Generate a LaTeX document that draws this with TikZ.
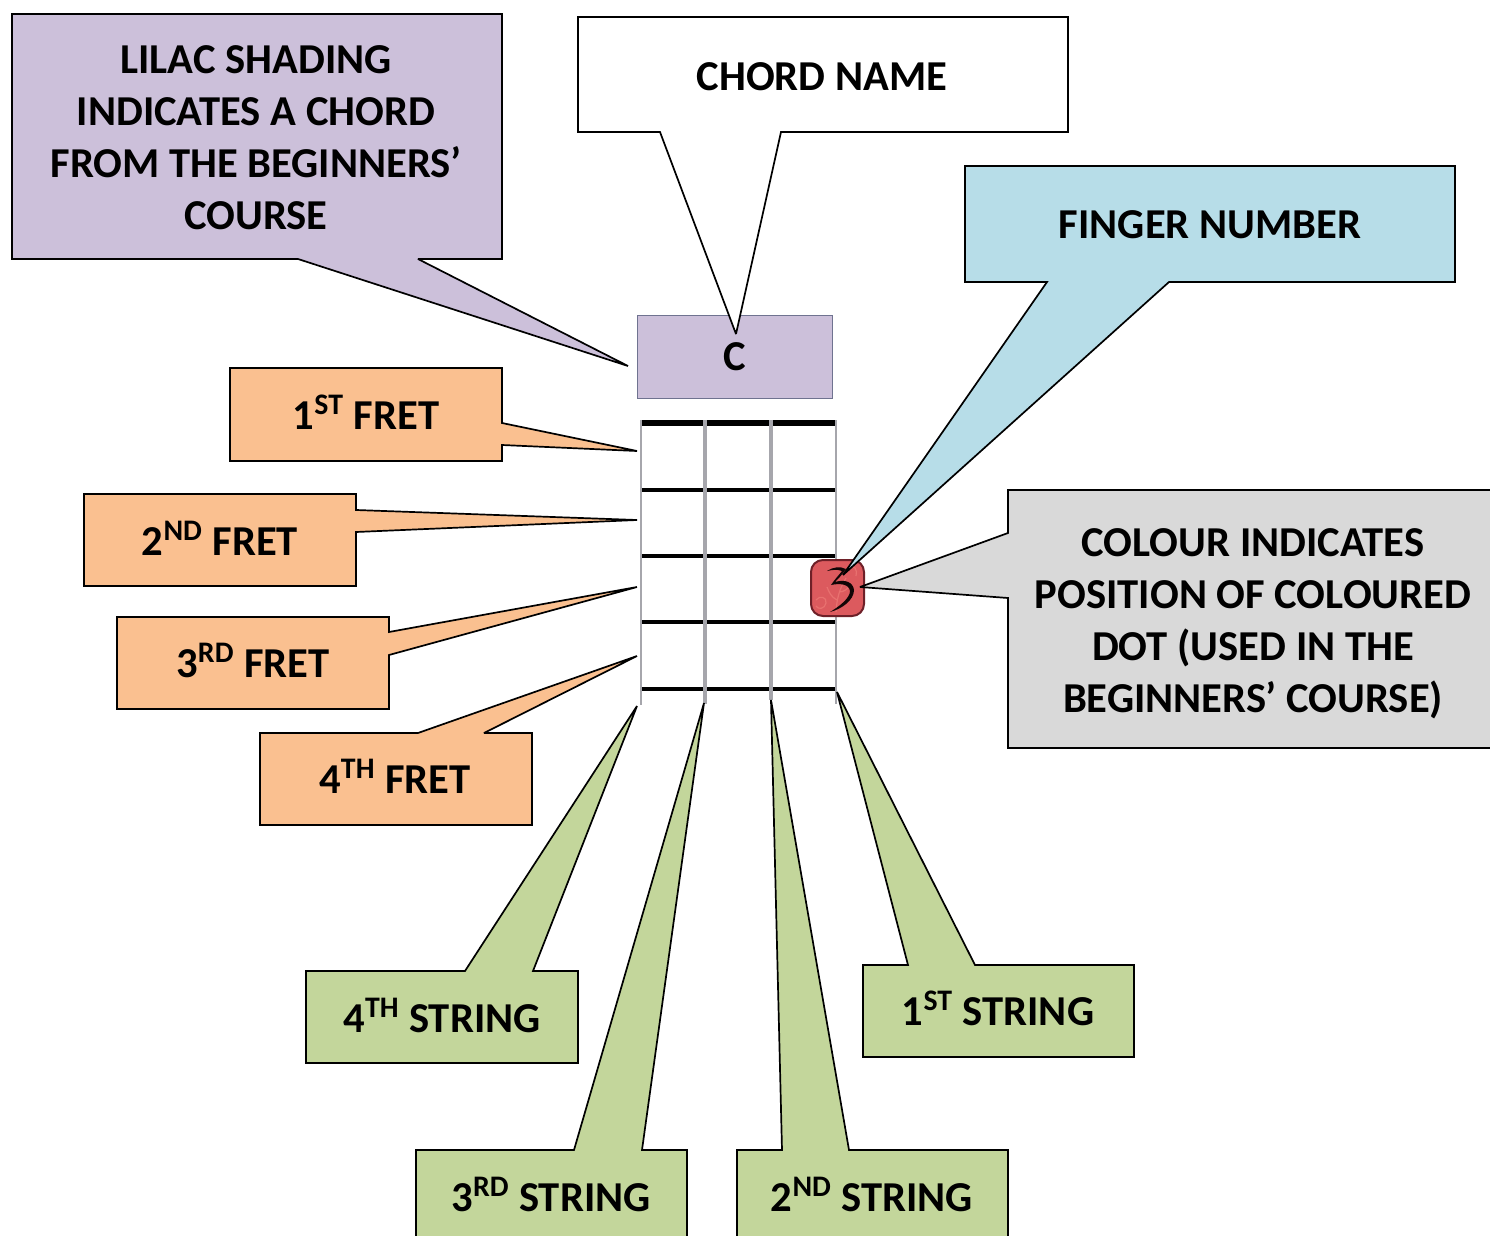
\documentclass[tikz,border=0pt]{standalone}
\usepackage{fontspec}
\setmainfont{Carlito}
\definecolor{lilac}{HTML}{CCC0DA}
\definecolor{peach}{HTML}{FAC090}
\definecolor{sky}{HTML}{B7DDE8}
\definecolor{silver}{HTML}{D9D9D9}
\definecolor{leaf}{HTML}{C3D69B}
\definecolor{wire}{HTML}{A6A6AC}
\definecolor{dotred}{HTML}{DC5A5E}
\definecolor{dotpale}{HTML}{E8716F}
\definecolor{dotedge}{HTML}{6E2028}
\definecolor{boxedge}{HTML}{6F7390}
\tikzset{
    callout/.style={draw=black, line width=0.85pt, line join=miter, miter limit=3},
    lbl/.style={font=\fontsize{21.3pt}{26pt}\selectfont\bfseries, align=center, inner sep=0pt},
}
\begin{document}
\begin{tikzpicture}[x=0.5pt, y=-0.5pt]
    \useasboundingbox (0,0) rectangle (1490,1236);
    \clip (0,0) rectangle (1490,1236);
    \draw[fill=lilac, draw=boxedge, line width=0.5pt] (637,315) rectangle (832,398);
    \foreach \y/\w in {423/3pt, 490/2.3pt, 556/2.3pt, 622/2.3pt, 689/2.3pt}
        \draw[black, line width=\w] (640,\y)--(835,\y);
    \foreach \x/\w/\e in {641/1.4pt/705, 705/2.4pt/704, 771/1.7pt/700, 836/1pt/704}
        \draw[wire, line width=\w] (\x,420)--(\x,\e);
    \draw[fill=dotred, draw=dotedge, line width=1pt, rounded corners=6pt] (811,560) rectangle (864,616);
    \begin{scope}[dotpale, line width=0.6pt]
        \draw (836,612)..controls (837,598) and (839,590) .. (846,578);
        \draw (837,600)..controls (831,597) and (829,592) .. (827,587);
        \draw (839,592)..controls (844,592) and (848,589) .. (851,584);
        \draw (816,600)..controls (820,595) and (827,597) .. (826,603)..controls (825,609) and (818,610) .. (816,606);
        \draw (848,566)..controls (854,564) and (858,570) .. (856,576);
    \end{scope}
    \fill[black!85!dotedge] (827,571)..controls (833,567) and (840,566) .. (846,569)..controls (842,575) and (838,579) .. (835,582)
        ..controls (845,579) and (853,582) .. (854,590)..controls (854,600) and (842,609) .. (830,612)
        ..controls (840,606) and (850,598) .. (850,591)..controls (849,584) and (840,583) .. (831,585)
        ..controls (835,579) and (839,575) .. (842,571)..controls (837,569) and (832,570) .. (827,571)--cycle;
    \draw[callout, fill=lilac] (12,14)--(502,14)--(502,259)--(418,259)--(628,366)--(298,259)--(12,259)--cycle;
    \draw[callout, fill=white] (578,17)--(1068,17)--(1068,132)--(781,132)--(736,334)--(660,132)--(578,132)--cycle;
    \draw[callout, fill=sky] (965,166)--(1455,166)--(1455,282)--(1169,282)--(843,575)--(1047,282)--(965,282)--cycle;
    \draw[callout, fill=silver] (1008,490)--(1500,490)--(1500,748)--(1008,748)--(1008,598)--(860,587)--(1008,533)--cycle;
    \draw[callout, fill=peach] (230,368)--(502,368)--(502,423)--(637,451)--(502,445)--(502,461)--(230,461)--cycle;
    \draw[callout, fill=peach] (84,494)--(356,494)--(356,510)--(637,520)--(356,532)--(356,586)--(84,586)--cycle;
    \draw[callout, fill=peach] (117,617)--(389,617)--(389,632)--(637,587)--(389,655)--(389,709)--(117,709)--cycle;
    \draw[callout, fill=peach] (260,733)--(418,733)--(637,656)--(484,733)--(532,733)--(532,825)--(260,825)--cycle;
    \draw[callout, fill=leaf] (306,971)--(465,971)--(637,706)--(533,971)--(578,971)--(578,1063)--(306,1063)--cycle;
    \draw[callout, fill=leaf] (416,1150)--(574,1150)--(704,703)--(642,1150)--(687,1150)--(687,1250)--(416,1250)--cycle;
    \draw[callout, fill=leaf] (737,1150)--(782,1150)--(771,700)--(849,1150)--(1008,1150)--(1008,1250)--(737,1250)--cycle;
    \draw[callout, fill=leaf] (863,965)--(908,965)--(837,692)--(975,965)--(1134,965)--(1134,1057)--(863,1057)--cycle;
    \node[lbl] (beginners) at (256,138) {LILAC SHADING\\INDICATES A CHORD\\FROM THE BEGINNERS’\\COURSE};
    \node[lbl] (chordname) at (822,77) {CHORD NAME};
    \node[lbl] (chord) at (735,357) {C};
    \node[lbl] (finger) at (1210,225) {FINGER NUMBER};
    \node[lbl] (colour) at (1253,624) {COLOUR INDICATES\\POSITION OF COLOURED\\DOT (USED IN THE\\BEGINNERS’ COURSE)};
    \node[lbl] (fretone) at (366,412) {1\textsuperscript{ST} FRET};
    \node[lbl] (frettwo) at (220,538) {2\textsuperscript{ND} FRET};
    \node[lbl] (fretthree) at (253,660) {3\textsuperscript{RD} FRET};
    \node[lbl] (fretfour) at (395,776) {4\textsuperscript{TH} FRET};
    \node[lbl] (stringfour) at (442,1015) {4\textsuperscript{TH} STRING};
    \node[lbl] (stringthree) at (551,1194) {3\textsuperscript{RD} STRING};
    \node[lbl] (stringtwo) at (872,1194) {2\textsuperscript{ND} STRING};
    \node[lbl] (stringone) at (998,1008) {1\textsuperscript{ST} STRING};
\end{tikzpicture}
\end{document}
